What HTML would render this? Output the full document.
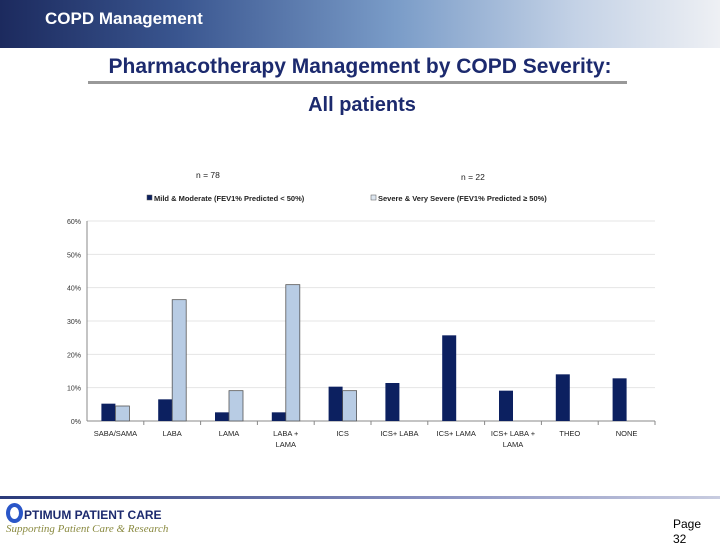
<!DOCTYPE html>
<html><head><meta charset="utf-8"><style>
body{margin:0;width:720px;height:540px;overflow:hidden;background:#fff;font-family:"Liberation Sans",sans-serif;position:relative}
.abs{position:absolute}
</style></head><body>
<div class="abs" style="left:0;top:0;width:720px;height:48px;background:linear-gradient(90deg,#1c2a5e 0%,#3a5690 25%,#7a9cc8 55%,#c4d2e6 80%,#eef0f4 100%)"></div>
<div class="abs" style="left:45px;top:9px;color:#fff;font-weight:bold;font-size:17px">COPD Management</div>
<div class="abs" style="left:60px;top:55px;width:600px;text-align:center;color:#1c2a6e;font-size:21px;font-weight:bold">Pharmacotherapy Management by COPD Severity:</div>
<div class="abs" style="left:88px;top:81px;width:539px;height:3px;background:#999"></div>
<div class="abs" style="left:262px;top:94px;width:200px;text-align:center;color:#1c2a6e;font-size:20px;font-weight:bold">All patients</div>
<svg class="abs" style="left:0;top:0" width="720" height="540">
<g id="g" font-family="Liberation Sans, sans-serif"></g>
</svg>
<div class="abs" style="left:0;top:496px;width:720px;height:3px;background:linear-gradient(90deg,#2a3a7a,#8890c0 60%,#c8cce0)"></div>
<div class="abs" style="left:6px;top:503px;width:17px;height:20px;border-radius:50%;border:4px solid #2a56c8;box-sizing:border-box"></div>
<div class="abs" style="left:24px;top:508px;color:#1c2a6e;font-weight:bold;font-size:12px">PTIMUM PATIENT CARE</div>
<div class="abs" style="left:6px;top:523px;color:#8a8a40;font-style:italic;font-family:'Liberation Serif',serif;font-size:11px">Supporting Patient Care &amp; Research</div>
<div class="abs" style="left:673px;top:517px;font-size:12px;line-height:15px">Page<br>32</div>
<script>
const categories=[["SABA/SAMA"],["LABA"],["LAMA"],["LABA +","LAMA"],["ICS"],["ICS+ LABA"],["ICS+ LAMA"],["ICS+ LABA +","LAMA"],["THEO"],["NONE"]];
const mildValues=[5.2,6.5,2.6,2.6,10.3,11.4,25.7,9.1,14.0,12.8];
const severeValues=[4.5,36.4,9.1,40.9,9.1,0,0,0,0,0];
const yTicks=[0,10,20,30,40,50,60];
const NS="http://www.w3.org/2000/svg",g=document.getElementById('g');
const x0=87,x1=655,yb=421,yt=221,cw=(x1-x0)/categories.length,bw=14;
const y=v=>yb-(v/60)*(yb-yt);
function mk(t,a){const e=document.createElementNS(NS,t);for(const k in a)e.setAttribute(k,a[k]);g.appendChild(e);return e;}
yTicks.forEach(t=>{const l=mk('line',{x1:x0,x2:x1,y1:y(t),y2:y(t),stroke:t?'#e4e4e4':'#888'});


const tx=mk('text',{x:81,y:y(t)+3,'text-anchor':'end','font-size':7,fill:'#333'});tx.textContent=t+'%';

});
mk('line',{x1:x0,x2:x0,y1:yt,y2:yb,stroke:'#888'});
categories.forEach((c,i)=>{const cx=x0+cw*(i+0.5);
mk('line',{x1:x0+cw*(i+1),x2:x0+cw*(i+1),y1:yb,y2:yb+4,stroke:'#888'});
const r1=mk('rect',{x:cx-bw,y:y(mildValues[i]),width:bw,height:yb-y(mildValues[i]),fill:'#0c2060'});


if(severeValues[i]>0){const r2=mk('rect',{x:cx,y:y(severeValues[i]),width:bw,height:yb-y(severeValues[i]),fill:'#b8cce4',stroke:'#555','stroke-width':0.8});

}
c.forEach((s,j)=>{const t=mk('text',{x:cx,y:436+j*11,'text-anchor':'middle','font-size':7.5,fill:'#222'});t.textContent=s;

});});
[[147,'#0c2060','Mild & Moderate (FEV1% Predicted < 50%)'],[371,'#dde6f0','Severe & Very Severe (FEV1% Predicted ≥ 50%)']].forEach(([lx,col,txt])=>{
mk('rect',{x:lx,y:195,width:5,height:5,fill:col,stroke:'#555','stroke-width':0.5});
const t=mk('text',{x:lx+7,y:201,'font-size':7.5,fill:'#222','font-weight':'bold'});t.textContent=txt;

});
[[196,178,'n =    78'],[461,180,'n =    22']].forEach(([lx,ly,s])=>{const t=mk('text',{x:lx,y:ly,'font-size':8.5,fill:'#222','xml:space':'preserve'});t.textContent=s;

});
</script>
</body></html>
